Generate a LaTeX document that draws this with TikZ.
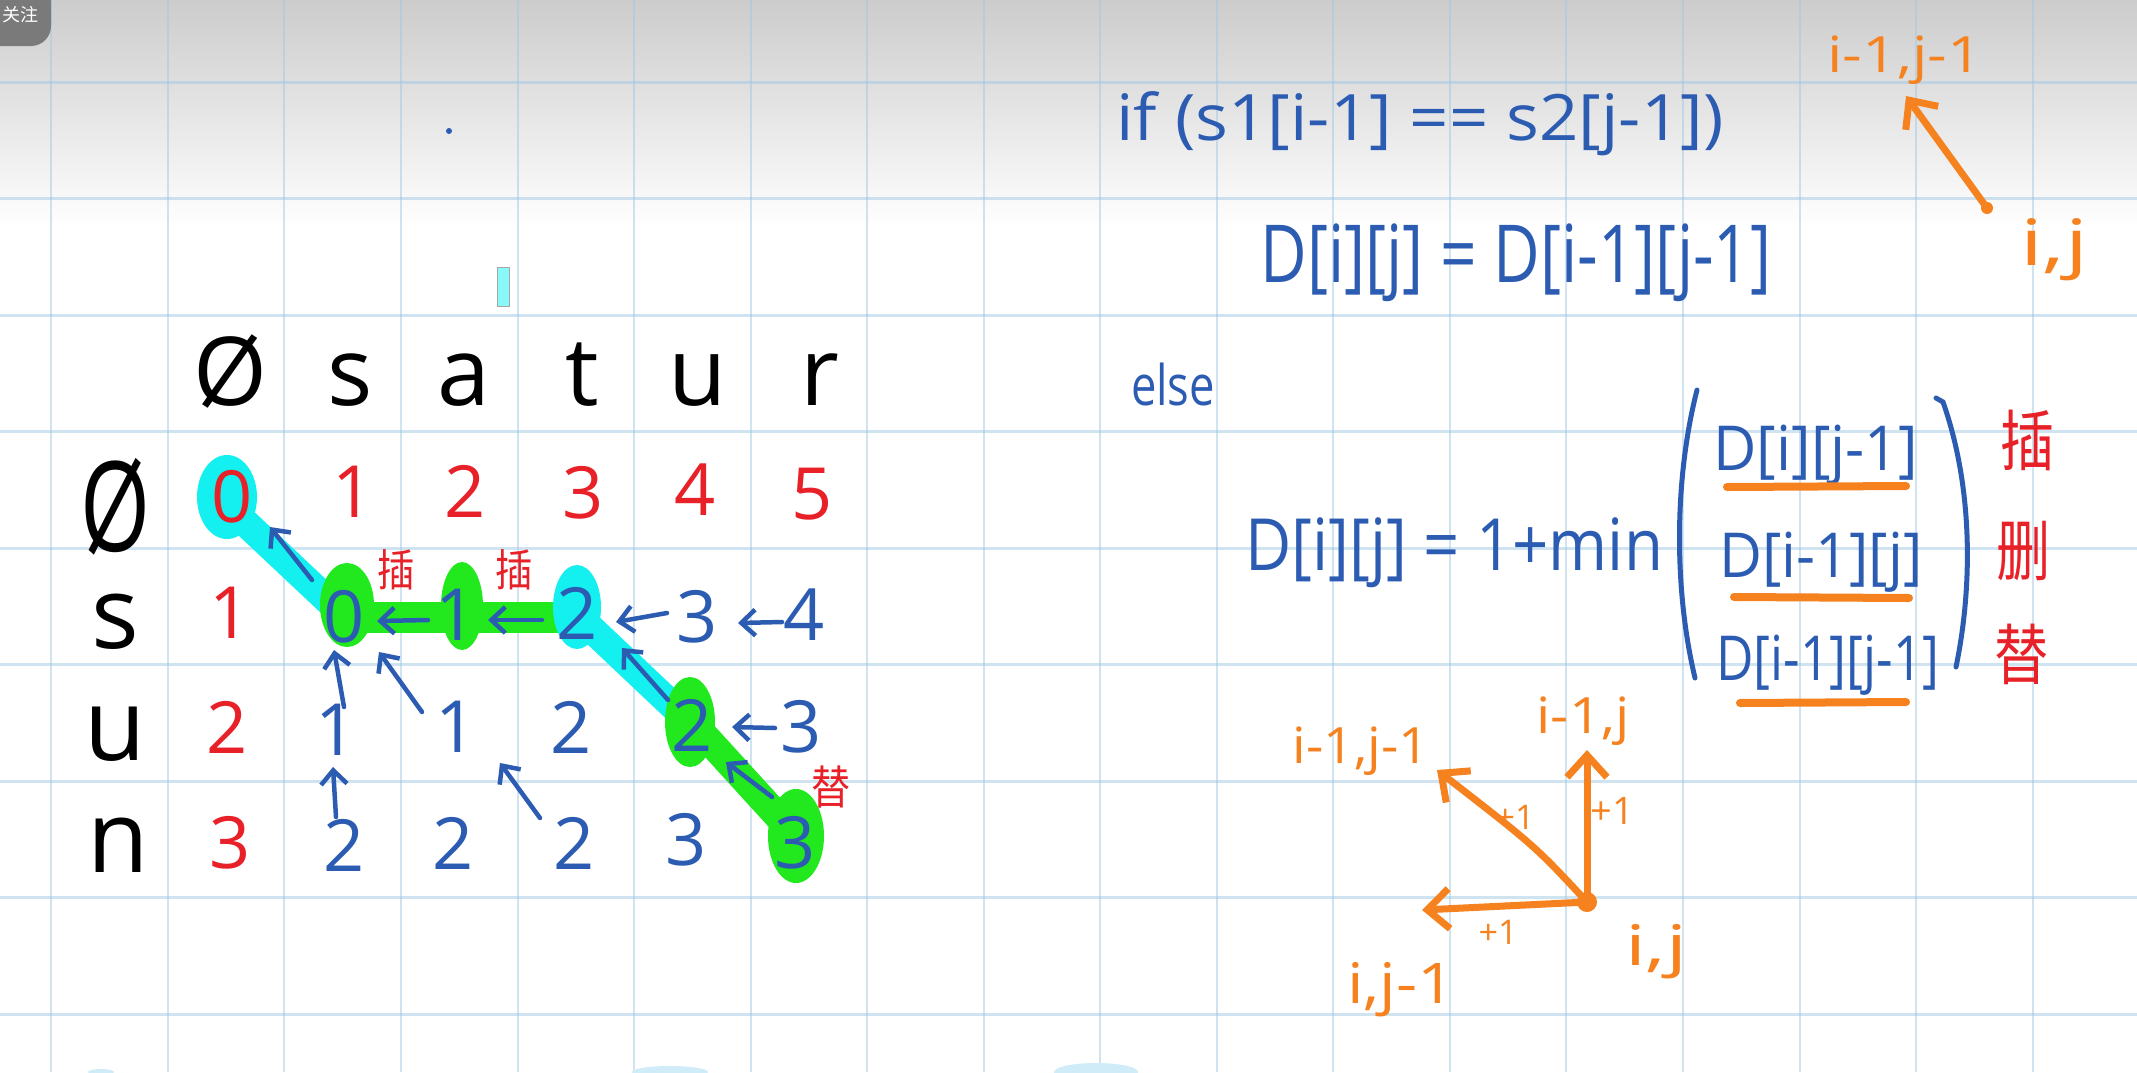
\documentclass[tikz,border=0pt]{standalone}
\usepackage{fontspec}
\usetikzlibrary{arrows.meta}
\newfontfamily\hand{Open Sans}
\newfontfamily\cjk{Noto Sans CJK SC}
\definecolor{hblue}{RGB}{44,92,178}
\definecolor{hred}{RGB}{232,32,40}
\definecolor{horange}{RGB}{246,130,31}
\definecolor{hcyan}{RGB}{20,240,240}
\definecolor{hgreen}{RGB}{34,232,30}
\definecolor{gridc}{RGB}{160,200,228}
\definecolor{topgray}{RGB}{204,204,204}
\definecolor{btngray}{RGB}{122,122,122}
\definecolor{blobc}{RGB}{208,236,248}
\newcommand\fw[2]{\resizebox{#1}{\height}{#2}}
\newcommand\hfs[1]{\hand\fontsize{#1}{#1}\selectfont}
\newcommand\cfs[1]{\cjk\fontsize{#1}{#1}\selectfont}
\tikzset{
  num/.style={inner sep=0pt, font=\hfs{72}},
  rnum/.style={num, text=hred},
  bnum/.style={num, text=hblue},
  lab/.style={inner sep=0pt, font=\hfs{100}, text=black},
  hdr/.style={inner sep=0pt, font=\hfs{95}, text=black, anchor=base},
  barrow/.style={draw=hblue, line width=4.5pt, line cap=round, -{Straight Barb[length=14pt,width=26pt]}},
  oarrow/.style={draw=horange, line width=7pt, line cap=round, -{Straight Barb[length=22pt,width=40pt]}},
  frm/.style={inner sep=0pt, text=hblue, anchor=base},
  olab/.style={inner sep=0pt, text=horange, anchor=base},
  cjkred/.style={inner sep=0pt, text=hred},
  cyanband/.style={draw=hcyan, line width=28pt, line cap=round},
  greenband/.style={draw=hgreen, line width=31pt, line cap=round},
  gridline/.style={draw=gridc, draw opacity=0.5},
}
\begin{document}
\begin{tikzpicture}[x=1pt,y=-1pt]
\useasboundingbox (0,0) rectangle (2137,1072);
% background
\fill[white] (0,0) rectangle (2137,1072);
\shade[top color=topgray, bottom color=white] (0,0) rectangle (2137,228);
\foreach \k in {0,...,17} \draw[gridline, line width=2pt] ({51.3+116.55*\k},0) -- ({51.3+116.55*\k},1072);
\foreach \k in {0,...,8} \draw[gridline, line width=3pt] (0,{82+116.5*\k}) -- (2137,{82+116.5*\k});
% bottom faint blobs
\fill[blobc] (101,1072) ellipse (13 and 3);
\fill[blobc] (670,1072) ellipse (38 and 6);
\fill[blobc] (1096,1072) ellipse (42 and 9);
% top-left button
\begin{scope}
\clip (0,0) rectangle (2137,1072);
\fill[btngray, rounded corners=20pt] (-40,-20) rectangle (51,46);
\node[inner sep=0pt, text=white, font=\cfs{18}] (btn) at (20,15) {关注};
\end{scope}
% stray marks
\fill[hblue] (449,131) circle (3);
\draw[gray!70, fill=hcyan!50!white, line width=1pt] (497,267) rectangle (509,306);

% ---------- highlights ----------
\draw[cyanband] (234,512) -- (335,607);
\draw[cyanband] (580,618) -- (690,722);
\draw[greenband] (347,617) -- (577,617);
\draw[hgreen, line width=28pt, line cap=round] (692,722) -- (796,836);
\fill[hcyan] (227,497) ellipse (30 and 42);
\fill[hcyan] (577,607) ellipse (24 and 42);
\fill[hgreen] (347,605) ellipse (27 and 42);
\fill[hgreen] (462,606) ellipse (21 and 44);
\fill[hgreen] (690,722) ellipse (25 and 45);
\fill[hgreen] (796,836) ellipse (28 and 47);

% ---------- header ----------
\node[hdr] (h0) at (230,405) {Ø};
\node[hdr] (h1) at (350,405) {s};
\node[hdr] (h2) at (464,405) {a};
\node[hdr] (h3) at (582,405) {t};
\node[hdr] (h4) at (698,405) {u};
\node[hdr] (h5) at (820,405) {r};
% row labels
\node[inner sep=0pt, font=\hfs{125}] (l0) at (116,507) {\scalebox{0.72}[1]{Ø}};
\node[lab] (l1) at (115,622) {s};
\node[lab] (l2) at (115,734) {u};
\node[lab] (l3) at (118,845) {n};

% ---------- cells ----------
\node[rnum] (c00) at (232,497) {0};
\node[rnum] (c01) at (353,492) {1};
\node[rnum] (c02) at (465,491) {2};
\node[rnum] (c03) at (583,493) {3};
\node[rnum] (c04) at (695,490) {4};
\node[rnum] (c05) at (812,494) {5};
\node[rnum] (c10) at (230,613) {1};
\node[bnum] (c11) at (344,617) {0};
\node[bnum] (c12) at (456,615) {1};
\node[bnum] (c13) at (577,613) {2};
\node[bnum] (c14) at (697,617) {3};
\node[bnum] (c15) at (804,615) {4};
\node[rnum] (c20) at (227,727) {2};
\node[bnum] (c21) at (336,730) {1};
\node[bnum] (c22) at (456,727) {1};
\node[bnum] (c23) at (571,727) {2};
\node[bnum] (c24) at (692,725) {2};
\node[bnum] (c25) at (801,727) {3};
\node[rnum] (c30) at (230,843) {3};
\node[bnum] (c31) at (344,845) {2};
\node[bnum] (c32) at (453,843) {2};
\node[bnum] (c33) at (574,843) {2};
\node[bnum] (c34) at (686,840) {3};
\node[bnum] (c35) at (795,843) {3};

% arrow end points
\coordinate (a1t) at (312,580);  \coordinate (a1h) at (270,527);
\coordinate (a2t) at (428,620);  \coordinate (a2h) at (377,621);
\coordinate (a3t) at (542,620);  \coordinate (a3h) at (488,620);
\coordinate (a4t) at (667,613);  \coordinate (a4h) at (616,622);
\coordinate (a5t) at (782,622);  \coordinate (a5h) at (738,623);
\coordinate (a6t) at (668,700);  \coordinate (a6h) at (622,648);
\coordinate (a7t) at (775,728);  \coordinate (a7h) at (732,727);
\coordinate (a8t) at (772,797);  \coordinate (a8h) at (726,762);
\coordinate (a9t) at (344,707);  \coordinate (a9h) at (334,650);
\coordinate (a10t) at (422,712); \coordinate (a10h) at (379,652);
\coordinate (a11t) at (336,817); \coordinate (a11h) at (333,767);
\coordinate (a12t) at (540,818); \coordinate (a12h) at (500,763);
\foreach \i in {1,...,12} \draw[barrow] (a\i t) -- (a\i h);

% red op labels in table
\node[cjkred, font=\cfs{44}] (ins1) at (396,570) {\scalebox{0.85}[1]{插}};
\node[cjkred, font=\cfs{44}] (ins2) at (514,570) {\scalebox{0.85}[1]{插}};
\node[cjkred, font=\cfs{46}] (rep1) at (831,787) {\scalebox{0.85}[1]{替}};

% ---------- formulas ----------
\node[frm, font=\hfs{64}] (f1) at (1420,140) {\fw{607pt}{if (s1[i-1] == s2[j-1])}};
\node[frm, font=\hfs{80}] (f2) at (1516,282) {\fw{511pt}{D[i][j] = D[i-1][j-1]}};
\node[frm, font=\hfs{56}] (f3) at (1173,405) {\fw{84pt}{else}};
\node[frm, font=\hfs{72}] (f4) at (1454,570) {\fw{418pt}{D[i][j] = 1+min}};
\node[frm, font=\hfs{62}] (e1) at (1816,470) {\fw{205pt}{D[i][j-1]}};
\node[frm, font=\hfs{62}] (e2) at (1821,577) {\fw{203pt}{D[i-1][j]}};
\node[frm, font=\hfs{62}] (e3) at (1828,680) {\fw{223pt}{D[i-1][j-1]}};
\draw[hblue, line width=5pt, line cap=round] (1697,390) .. controls (1674,480) and (1674,590) .. (1695,678);
\draw[hblue, line width=5pt, line cap=round] (1936,398) -- (1943,402) .. controls (1974,490) and (1972,590) .. (1956,667);
\draw[horange, line width=8pt, line cap=round] (1727,487) -- (1906,486);
\draw[horange, line width=8pt, line cap=round] (1734,597) -- (1909,598);
\draw[horange, line width=8pt, line cap=round] (1740,703) -- (1906,702);
\node[cjkred, font=\cfs{66}] (op1) at (2028,440) {\scalebox{0.82}[1]{插}};
\node[cjkred, font=\cfs{66}] (op2) at (2024,551) {\scalebox{0.82}[1]{删}};
\node[cjkred, font=\cfs{66}] (op3) at (2022,654) {\scalebox{0.82}[1]{替}};

% ---------- top-right orange ----------
\node[olab, font=\hfs{50}] (tl) at (1905,72) {\fw{155pt}{i-1,j-1}};
\node[olab, font=\hfs{64}] (tr) at (2054,265) {\fw{68pt}{i,j}};
\coordinate (tp) at (1987,208);
\coordinate (tq) at (1906,96);
\fill[horange] (tp) circle (6);
\draw[oarrow] (tp) -- (tq);

% ---------- bottom orange diagram ----------
\coordinate (o) at (1587,902);
\coordinate (up) at (1587,750);
\coordinate (dg) at (1437,770);
\coordinate (lf) at (1422,910);
\draw[oarrow] (o) -- (up);
\draw[oarrow] (o) .. controls (1535,846) .. (dg);
\draw[oarrow] (o) -- (lf);
\fill[horange] (o) circle (10);
\node[olab, font=\hfs{50}] (lup) at (1583,733) {\fw{93pt}{i-1,j}};
\node[olab, font=\hfs{50}] (ldg) at (1361,763) {\fw{137pt}{i-1,j-1}};
\node[olab, font=\hfs{56}] (llf) at (1401,1003) {\fw{108pt}{i,j-1}};
\node[olab, font=\hfs{56}] (lo) at (1656,965) {\fw{62pt}{i,j}};
\node[inner sep=0pt, text=horange, font=\hfs{34}] (p1) at (1515,817) {+1};
\node[inner sep=0pt, text=horange, font=\hfs{38}] (p2) at (1612,811) {+1};
\node[inner sep=0pt, text=horange, font=\hfs{34}] (p3) at (1498,932) {+1};
\end{tikzpicture}
\end{document}
